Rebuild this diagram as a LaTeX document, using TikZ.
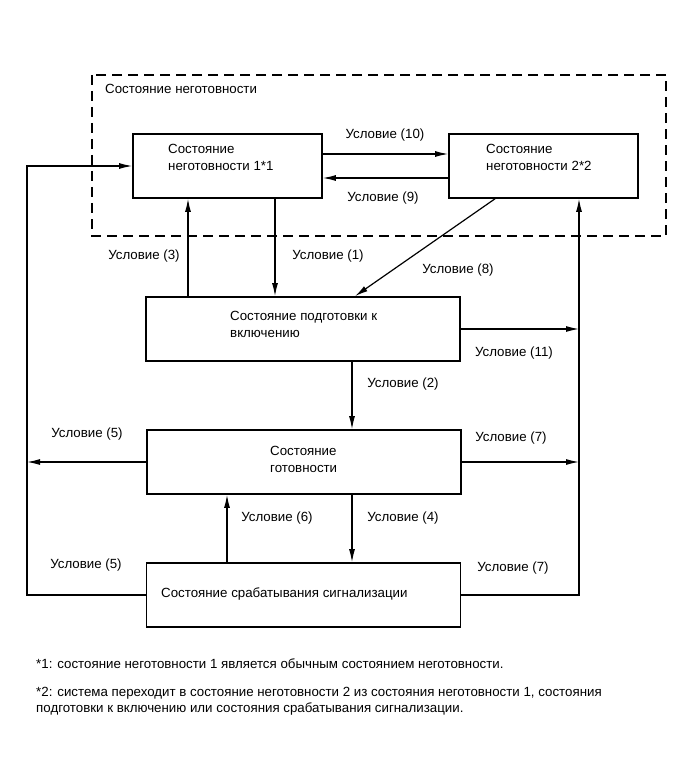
\documentclass[tikz,border=0pt]{standalone}
\usepackage{fontspec}
\setmainfont{Liberation Sans}
\usetikzlibrary{arrows.meta}
\tikzset{
  zbox/.style={draw, line width=1.6pt, minimum width=314pt, minimum height=64pt, inner sep=0pt},
  ztxt/.style={anchor=north west, inner sep=0pt, align=left, font=\fontsize{13.3}{17}\selectfont},
  zlbl/.style={inner sep=0pt, text height=9.5pt, text depth=0pt, font=\fontsize{13.3}{15}\selectfont},
  zln/.style={line width=1.2pt},
  zarr/.style={line width=1.2pt, -{Latex[length=13pt,width=6pt]}}
}
\begin{document}
\begin{tikzpicture}[x=1pt,y=-1pt]
			%%%%% START %%%%%
			\useasboundingbox (0,0) rectangle (690,759);
			
			\draw[line width=1.6pt, dash pattern=on 10pt off 6pt] (92,75) rectangle (666,236);
			\node[zlbl, anchor=west] (tnot) at (105,89) {Состояние неготовности};
			
			\node[zbox, minimum width=189pt] (nb1) at (227.5,166) {};
			\node[ztxt] (tnb1) at (168,144) {Состояние\\неготовности 1*1};
			\node[zbox, minimum width=189pt] (nb2) at (543.5,166) {};
			\node[ztxt] (tnb2) at (486,144) {Состояние\\неготовности 2*2};
			
			\node[zbox] (prep) at (303,329) {};
			\node[ztxt] (tprep) at (230,311) {Состояние подготовки к\\включению};
			\node[zbox] (rdy) at (304,462) {};
			\node[ztxt] (trdy) at (270,446) {Состояние\\готовности};
			\node[zbox] (alm) at (303.5,595) {};
			\node[ztxt] (talm) at (161,588) {Состояние срабатывания сигнализации};
			
			\coordinate (lft) at (27,0);
			\coordinate (rgt) at (579,0);
			
			\draw[zarr] (nb1.east |- 0,154) -- (nb2.west |- 0,154);
			\draw[zarr] (nb2.west |- 0,178) -- (nb1.east |- 0,178);
			\draw[zarr] (prep.north -| 188,0) -- (nb1.south -| 188,0);
			\draw[zarr] (nb1.south -| 275,0) -- (prep.north -| 275,0);
			\draw[zarr] (nb2.south -| 495,0) -- (prep.north -| 355,0);
			\draw[zarr] (prep.east) -- (prep.east -| rgt);
			\draw[zarr] (prep.south -| 352,0) -- (rdy.north -| 352,0);
			\draw[zarr] (rdy.west) -- (rdy.west -| lft);
			\draw[zarr] (rdy.east) -- (rdy.east -| rgt);
			\draw[zarr] (rdy.south -| 352,0) -- (alm.north -| 352,0);
			\draw[zarr] (alm.north -| 227,0) -- (rdy.south -| 227,0);
			\draw[zarr] (alm.west) -- (alm.west -| lft) -- (lft |- nb1.west) -- (nb1.west);
			\draw[zarr] (alm.east) -- (alm.east -| rgt) -- (rgt |- nb2.south);
			
			\node[zlbl] (c10) at (385,134) {Условие (10)};
			\node[zlbl] (c9) at (383,197) {Условие (9)};
			\node[zlbl] (c3) at (144,255) {Условие (3)};
			\node[zlbl] (c1) at (328,255) {Условие (1)};
			\node[zlbl] (c8) at (458,269) {Условие (8)};
			\node[zlbl] (c11) at (514,352) {Условие (11)};
			\node[zlbl] (c2) at (403,383) {Условие (2)};
			\node[zlbl] (c5a) at (87,433) {Условие (5)};
			\node[zlbl] (c7a) at (511,437) {Условие (7)};
			\node[zlbl] (c6) at (277,517) {Условие (6)};
			\node[zlbl] (c4) at (403,517) {Условие (4)};
			\node[zlbl] (c5b) at (86,564) {Условие (5)};
			\node[zlbl] (c7b) at (513,567) {Условие (7)};
			
			\node[zlbl, anchor=west] (fn1) at (36,664) {*1: состояние неготовности 1 является обычным состоянием неготовности.};
			\node[ztxt, font=\fontsize{13.3}{16}\selectfont] (fn2) at (36,687) {*2: система переходит в состояние неготовности 2 из состояния неготовности 1, состояния\\подготовки к включению или состояния срабатывания сигнализации.};
			%%%%% END %%%%%
		\end{tikzpicture}
\end{document}
